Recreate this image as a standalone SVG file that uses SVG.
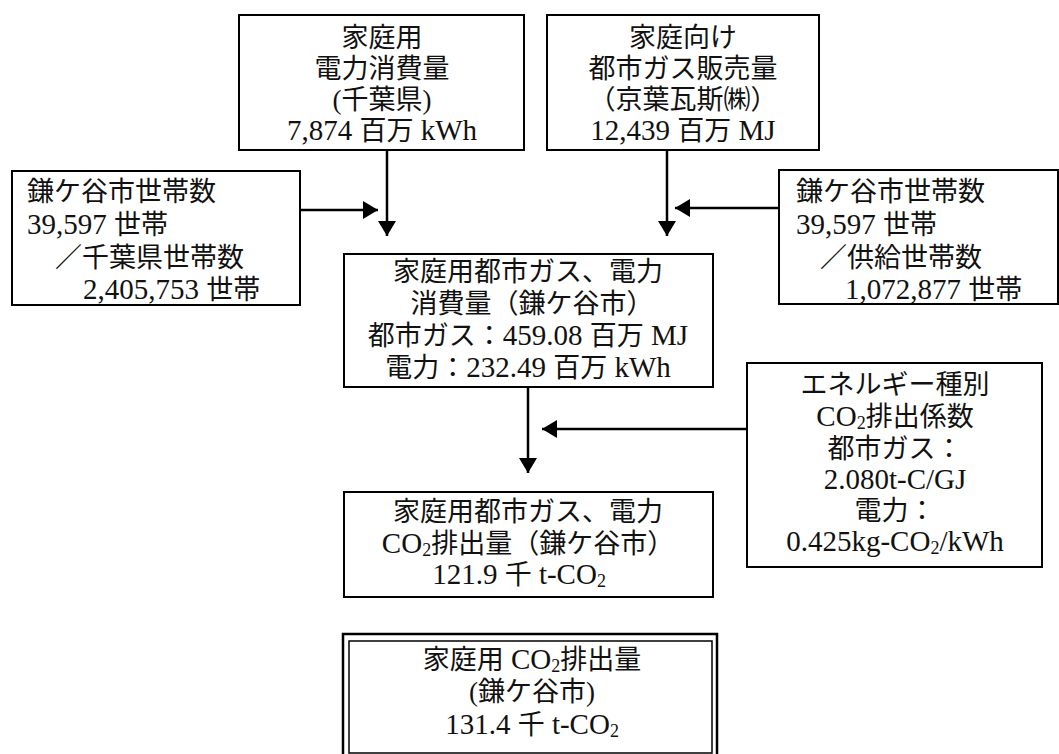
<svg xmlns="http://www.w3.org/2000/svg" width="1059" height="754" viewBox="0 0 1059 754">
<style>
  .box{fill:#fff;stroke:#000;stroke-width:2}
  .t{font-family:"Liberation Serif","Noto Sans CJK JP",serif;font-size:27px;fill:#111}
  .c{text-anchor:middle}
  .n{font-size:29px}
  .sub{font-size:18px}
  .con{stroke:#000;stroke-width:2.5;fill:none;marker-end:url(#ah)}
</style>
<defs>
  <marker id="ah" markerUnits="userSpaceOnUse" markerWidth="16" markerHeight="18" refX="15" refY="9" orient="auto">
    <path d="M0,0 L15,9 L0,18 z" fill="#000"/>
  </marker>
</defs>
<rect width="1059" height="754" fill="#fff"/>

<g id="connectors">
  <line class="con" x1="387" y1="150" x2="387" y2="236"/>
  <line class="con" x1="300" y1="210" x2="378" y2="210"/>
  <line class="con" x1="667" y1="150" x2="667" y2="236"/>
  <line class="con" x1="779" y1="208" x2="675" y2="208"/>
  <line class="con" x1="528" y1="387" x2="528" y2="473"/>
  <line class="con" x1="747" y1="429" x2="542" y2="429"/>
</g>

<g id="n-elec-chiba">
  <rect class="box" x="239" y="15" width="285" height="135"/>
  <text class="t c" x="382" y="47">家庭用</text>
  <text class="t c" x="382" y="78">電力消費量</text>
  <text class="t c" x="382" y="109">(千葉県)</text>
  <text class="t c" x="382" y="140"><tspan class="n">7,874 </tspan>百万<tspan class="n"> kWh</tspan></text>
</g>

<g id="n-gas-keiyo">
  <rect class="box" x="547" y="15" width="272" height="135"/>
  <text class="t c" x="683" y="47">家庭向け</text>
  <text class="t c" x="683" y="78">都市ガス販売量</text>
  <text class="t c" x="683" y="109">（京葉瓦斯㈱）</text>
  <text class="t c" x="683" y="140"><tspan class="n">12,439 </tspan>百万<tspan class="n"> MJ</tspan></text>
</g>

<g id="n-households-chiba">
  <rect class="box" x="12" y="171" width="288" height="134"/>
  <text class="t" x="27" y="201">鎌ケ谷市世帯数</text>
  <text class="t" x="27" y="234"><tspan class="n">39,597 </tspan>世帯</text>
  <text class="t" x="55" y="267">／千葉県世帯数</text>
  <text class="t" x="83" y="299"><tspan class="n">2,405,753 </tspan>世帯</text>
</g>

<g id="n-households-supply">
  <rect class="box" x="779" y="170" width="279" height="134"/>
  <text class="t" x="796" y="201">鎌ケ谷市世帯数</text>
  <text class="t" x="796" y="234"><tspan class="n">39,597 </tspan>世帯</text>
  <text class="t" x="820" y="267">／供給世帯数</text>
  <text class="t" x="845" y="299"><tspan class="n">1,072,877 </tspan>世帯</text>
</g>

<g id="n-consumption-kamagaya">
  <rect class="box" x="344" y="254" width="369" height="133"/>
  <text class="t c" x="528" y="281">家庭用都市ガス、電力</text>
  <text class="t c" x="532" y="313">消費量（鎌ケ谷市）</text>
  <text class="t c" x="528" y="345">都市ガス：<tspan class="n">459.08 </tspan>百万<tspan class="n"> MJ</tspan></text>
  <text class="t c" x="528" y="377">電力：<tspan class="n">232.49 </tspan>百万<tspan class="n"> kWh</tspan></text>
</g>

<g id="n-coefficients">
  <rect class="box" x="747" y="363" width="295" height="204"/>
  <text class="t c" x="895" y="394">エネルギー種別</text>
  <text class="t c" x="895" y="426"><tspan class="n">CO</tspan><tspan class="sub" dy="3">2</tspan><tspan dy="-3">排出係数</tspan></text>
  <text class="t c" x="895" y="458">都市ガス：</text>
  <text class="t c n" x="895" y="489">2.080t-C/GJ</text>
  <text class="t c" x="895" y="520">電力：</text>
  <text class="t c n" x="895" y="551">0.425kg-CO<tspan class="sub" dy="3">2</tspan><tspan dy="-3">/kWh</tspan></text>
</g>

<g id="n-emission-gas-elec">
  <rect class="box" x="344" y="492" width="369" height="105"/>
  <text class="t c" x="528" y="521">家庭用都市ガス、電力</text>
  <text class="t c" x="528" y="553"><tspan class="n">CO</tspan><tspan class="sub" dy="3">2</tspan><tspan dy="-3">排出量（鎌ケ谷市）</tspan></text>
  <text class="t c" x="519" y="584"><tspan class="n">121.9 </tspan>千<tspan class="n"> t-CO</tspan><tspan class="sub" dy="3">2</tspan></text>
</g>

<g id="n-emission-total">
  <rect fill="#fff" stroke="#000" stroke-width="2.5" x="343" y="634" width="374" height="126"/>
  <rect fill="none" stroke="#000" stroke-width="1.5" x="349" y="641" width="363" height="112"/>
  <text class="t c" x="532" y="669">家庭用<tspan class="n"> CO</tspan><tspan class="sub" dy="3">2</tspan><tspan dy="-3">排出量</tspan></text>
  <text class="t c" x="532" y="701">(鎌ケ谷市)</text>
  <text class="t c" x="532" y="734"><tspan class="n">131.4 </tspan>千<tspan class="n"> t-CO</tspan><tspan class="sub" dy="3">2</tspan></text>
</g>
</svg>
